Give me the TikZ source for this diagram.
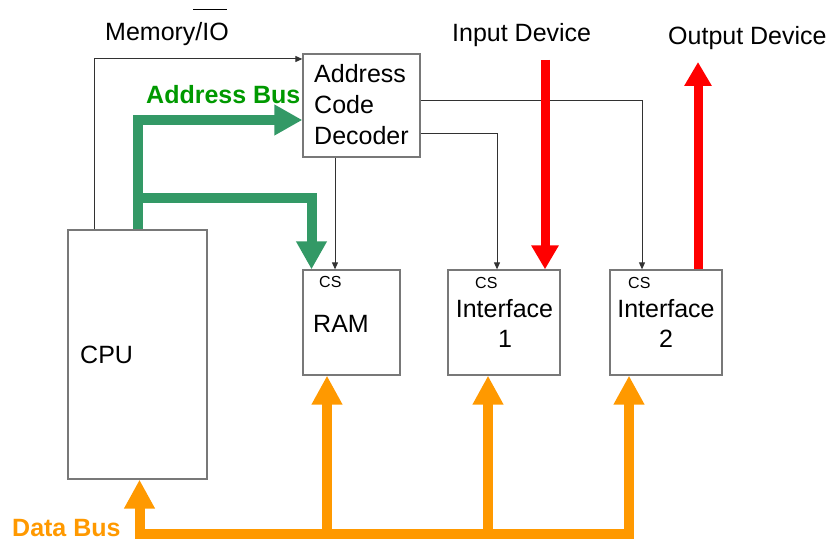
\documentclass[tikz,border=0pt]{standalone}
\usepackage{fontspec}
\setmainfont{Liberation Sans}
\usetikzlibrary{arrows.meta}
\definecolor{gbuscol}{RGB}{51,153,102}
\definecolor{gtext}{RGB}{0,153,0}
\definecolor{redcol}{RGB}{255,0,0}
\definecolor{orcol}{RGB}{255,153,0}
\definecolor{boxgray}{RGB}{120,120,120}
\definecolor{linegray}{RGB}{50,50,50}
\newcommand{\bigfs}{\fontsize{25}{30.5}\selectfont}
\newcommand{\smallfs}{\fontsize{16}{18}\selectfont}
\begin{document}
\begin{tikzpicture}[x=1pt,y=-1pt,
  box/.style={draw=boxgray, line width=1.3pt, fill=white, inner sep=0pt},
  lbl/.style={inner sep=0pt, font=\bigfs},
  cslbl/.style={inner sep=0pt, font=\smallfs},
  thinarrow/.style={draw=linegray, line width=1pt, -{Triangle[length=7pt,width=6pt]}},
  gbus/.style={draw=gbuscol, line width=10pt, -{Triangle[length=28pt,width=29pt]}},
  rbus/.style={draw=redcol, line width=9pt, -{Triangle[length=24pt,width=26pt]}},
  obus/.style={draw=orcol, line width=10pt, -{Triangle[length=29pt,width=29pt]}},
  obusboth/.style={draw=orcol, line width=10pt, {Triangle[length=29pt,width=29pt]}-{Triangle[length=29pt,width=29pt]}}
]
\useasboundingbox (0,0) rectangle (834,540);

% boxes
\node[box, minimum width=139pt, minimum height=249pt] (cpu) at (137.5,354.5) {};
\node[box, minimum width=117pt, minimum height=103pt] (dec) at (361.5,105.5) {};
\node[box, minimum width=97pt, minimum height=105pt] (ram) at (351.5,322.5) {};
\node[box, minimum width=112pt, minimum height=105pt] (if1) at (504,322.5) {};
\node[box, minimum width=112pt, minimum height=105pt] (if2) at (666,322.5) {};

% box texts
\node[lbl, anchor=base west] (cputxt) at (80,363) {CPU};
\node[lbl, anchor=base west] (dect1) at (314,83) {Address};
\node[lbl, anchor=base west] (dect2) at (314,114) {Code};
\node[lbl, anchor=base west] (dect3) at (314,145) {Decoder};
\node[cslbl, anchor=base west] (ramcs) at (319,287) {CS};
\node[lbl, anchor=base west] (ramtxt) at (313,332) {RAM};
\node[cslbl, anchor=base west] (if1cs) at (475,288) {CS};
\node[lbl, anchor=base] (if1txt) at (504.5,317) {Interface};
\node[lbl, anchor=base] (if1num) at (505,347) {1};
\node[cslbl, anchor=base west] (if2cs) at (628,288) {CS};
\node[lbl, anchor=base] (if2txt) at (666,317) {Interface};
\node[lbl, anchor=base] (if2num) at (666,347) {2};

% outside labels
\node[lbl, anchor=base west] (mem) at (105,41) {Memory/IO};
\draw[line width=1pt, black] (193,10) -- (227,10);
\node[lbl, anchor=base west, text=gtext, font=\bigfs\bfseries] (abus) at (146,104) {Address Bus};
\node[lbl, anchor=base west] (indev) at (452,42) {Input Device};
\node[lbl, anchor=base west] (outdev) at (668,45) {Output Device};
\node[lbl, anchor=base west, text=orcol, font=\bigfs\bfseries] (dbus) at (12,536) {Data Bus};

% thin control lines
\coordinate (m1) at (94,59);
\draw[thinarrow] (cpu.north -| m1) -- (m1) -- (dec.west |- m1);
\coordinate (d1) at (642,101);
\draw[thinarrow] (dec.east |- d1) -- (d1) -- (if2.north -| d1);
\coordinate (d2) at (497,134);
\draw[thinarrow] (dec.east |- d2) -- (d2) -- (if1.north -| d2);
\coordinate (d3) at (335,0);
\draw[thinarrow] (dec.south -| d3) -- (ram.north -| d3);

% address bus
\coordinate (g1) at (137.5,120);
\draw[gbus] (cpu.north -| g1) -- (g1) -- (dec.west |- g1);
\coordinate (g2) at (137.5,198);
\coordinate (g3) at (311.5,198);
\draw[gbus] (g2) -- (g3) -- (ram.north -| g3);

% device lines
\coordinate (r1) at (545,60);
\draw[rbus] (r1) -- (if1.north -| r1);
\coordinate (r2) at (698,62);
\draw[rbus] (if2.north -| r2) -- (r2);

% data bus
\coordinate (o1) at (139.5,534);
\coordinate (o4) at (629,534);
\draw[obusboth] (if2.south -| o4) -- (o4) -- (o1) -- (cpu.south -| o1);
\coordinate (o2) at (327,534);
\draw[obus] (o2) -- (ram.south -| o2);
\coordinate (o3) at (488,534);
\draw[obus] (o3) -- (if1.south -| o3);
\end{tikzpicture}
\end{document}
